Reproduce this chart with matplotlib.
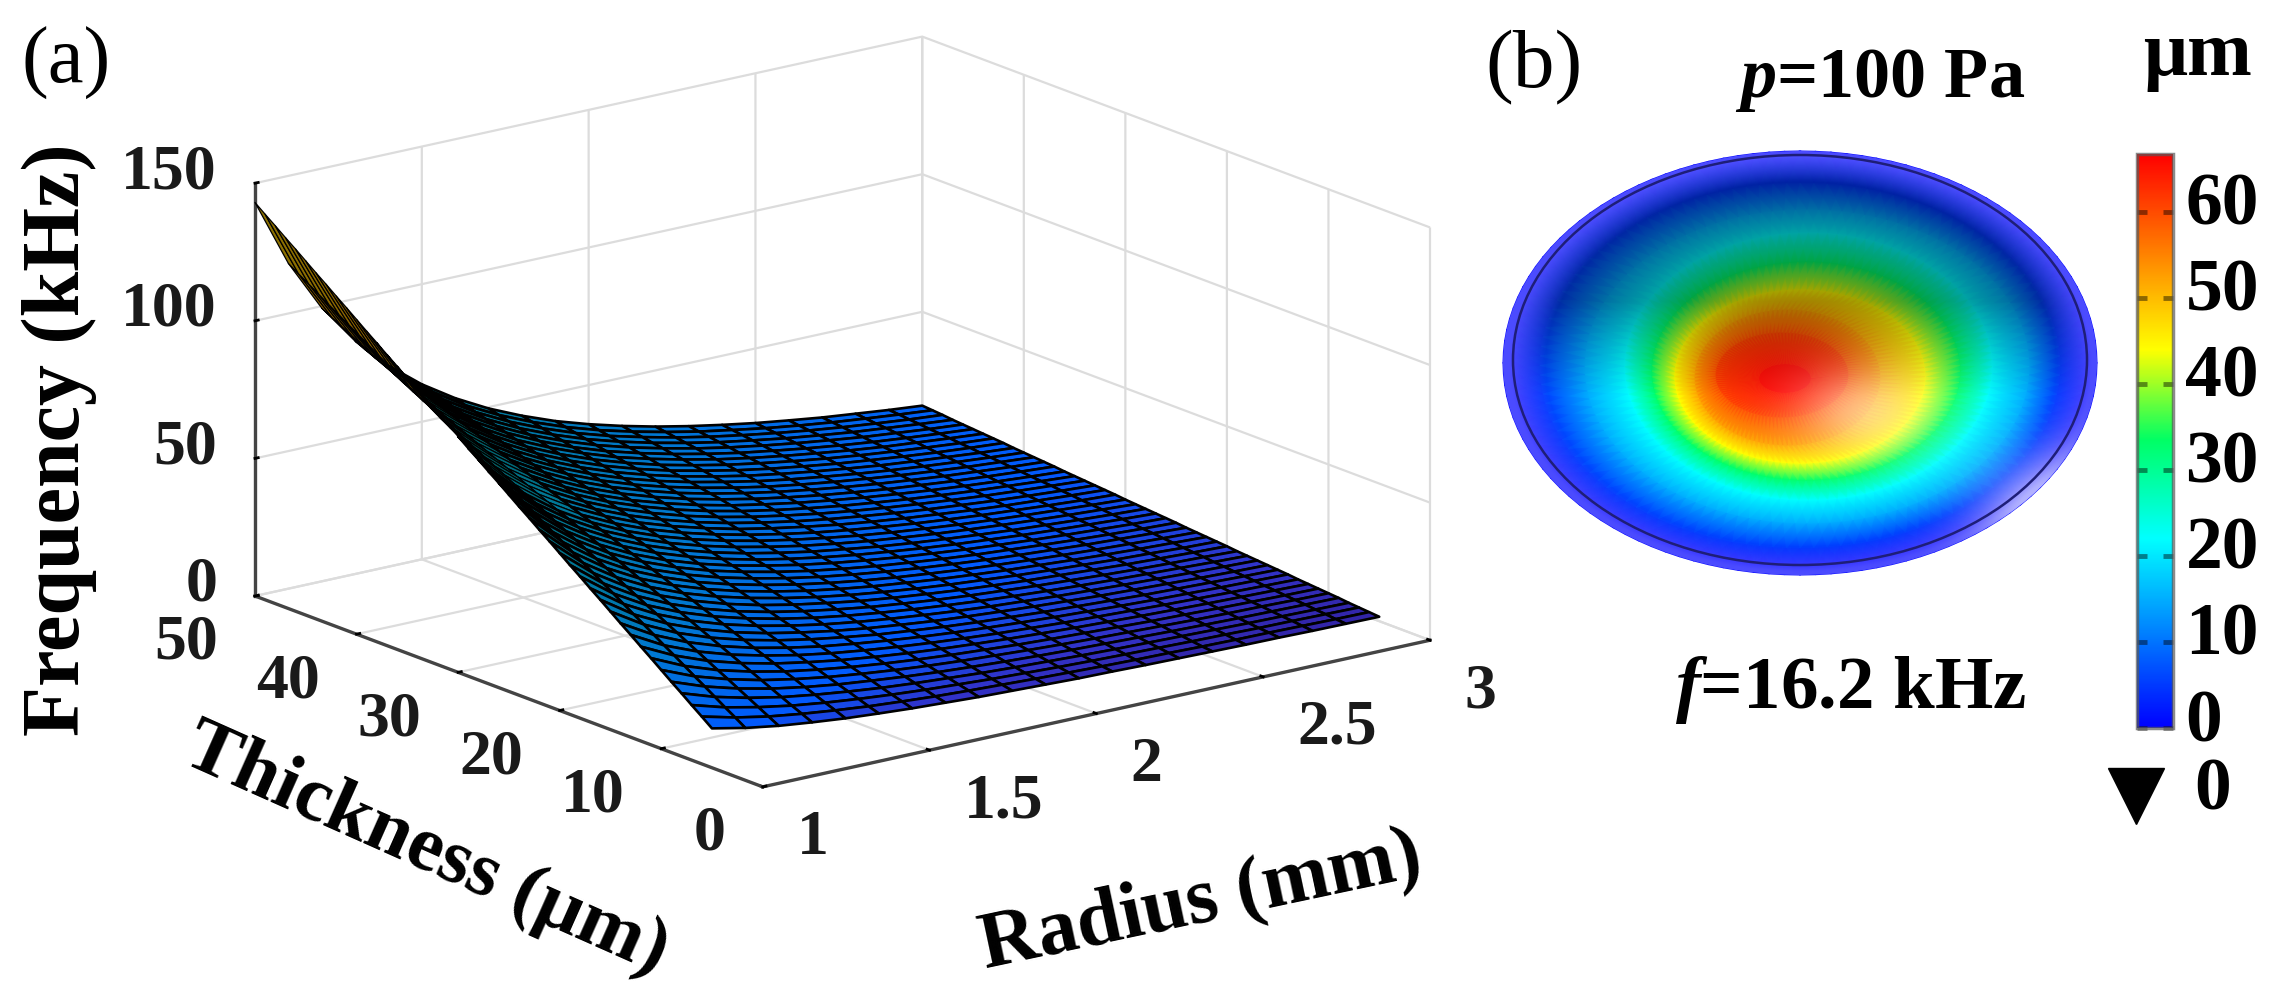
import numpy as np
import matplotlib
matplotlib.use("Agg")
import matplotlib.pyplot as plt
from matplotlib.colors import LinearSegmentedColormap, Normalize
from matplotlib.cm import ScalarMappable
from matplotlib.patches import Ellipse
from matplotlib.transforms import ScaledTranslation
from mpl_toolkits.mplot3d import proj3d

W, H = 2283, 990
plt.rcParams.update({
    "font.family": "Liberation Serif", "font.weight": "bold",
    "mathtext.fontset": "custom", "mathtext.bfit": "Liberation Serif:italic:bold",
    "mathtext.rm": "Liberation Serif", "grid.color": "#dcdcdc", "grid.linewidth": 1.6,
})

# ---- panel (a) values ----
radius_mm = [1.0,1.1,1.2,1.3,1.4,1.5,1.6,1.7,1.8,1.9,2.0,2.1,2.2,2.3,2.4,2.5,2.6,2.7,2.8,2.9,3.0]
thickness_um = list(range(5, 51))
frequency_khz = [
[14.3,11.8,9.9,8.5,7.3,6.4,5.6,5.0,4.4,4.0,3.6,3.2,3.0,2.7,2.5,2.3,2.1,2.0,1.8,1.7,1.6],
[17.2,14.2,11.9,10.2,8.8,7.6,6.7,5.9,5.3,4.8,4.3,3.9,3.5,3.2,3.0,2.7,2.5,2.4,2.2,2.0,1.9],
[20.0,16.5,13.9,11.8,10.2,8.9,7.8,6.9,6.2,5.5,5.0,4.5,4.1,3.8,3.5,3.2,3.0,2.7,2.6,2.4,2.2],
[22.9,18.9,15.9,13.5,11.7,10.2,8.9,7.9,7.1,6.3,5.7,5.2,4.7,4.3,4.0,3.7,3.4,3.1,2.9,2.7,2.5],
[25.7,21.3,17.9,15.2,13.1,11.4,10.1,8.9,7.9,7.1,6.4,5.8,5.3,4.9,4.5,4.1,3.8,3.5,3.3,3.1,2.9],
[28.6,23.6,19.9,16.9,14.6,12.7,11.2,9.9,8.8,7.9,7.2,6.5,5.9,5.4,5.0,4.6,4.2,3.9,3.7,3.4,3.2],
[31.5,26.0,21.8,18.6,16.0,14.0,12.3,10.9,9.7,8.7,7.9,7.1,6.5,6.0,5.5,5.0,4.7,4.3,4.0,3.7,3.5],
[34.3,28.4,23.8,20.3,17.5,15.3,13.4,11.9,10.6,9.5,8.6,7.8,7.1,6.5,6.0,5.5,5.1,4.7,4.4,4.1,3.8],
[37.2,30.7,25.8,22.0,19.0,16.5,14.5,12.9,11.5,10.3,9.3,8.4,7.7,7.0,6.5,6.0,5.5,5.1,4.7,4.4,4.1],
[40.0,33.1,27.8,23.7,20.4,17.8,15.6,13.9,12.4,11.1,10.0,9.1,8.3,7.6,7.0,6.4,5.9,5.5,5.1,4.8,4.5],
[42.9,35.5,29.8,25.4,21.9,19.1,16.8,14.9,13.2,11.9,10.7,9.7,8.9,8.1,7.5,6.9,6.3,5.9,5.5,5.1,4.8],
[45.8,37.8,31.8,27.1,23.3,20.3,17.9,15.8,14.1,12.7,11.4,10.4,9.5,8.7,8.0,7.3,6.8,6.3,5.8,5.4,5.1],
[48.6,40.2,33.8,28.8,24.8,21.6,19.0,16.8,15.0,13.5,12.2,11.0,10.0,9.2,8.4,7.8,7.2,6.7,6.2,5.8,5.4],
[51.5,42.6,35.7,30.5,26.3,22.9,20.1,17.8,15.9,14.3,12.9,11.7,10.6,9.7,8.9,8.2,7.6,7.1,6.6,6.1,5.7],
[54.3,44.9,37.7,32.1,27.7,24.1,21.2,18.8,16.8,15.0,13.6,12.3,11.2,10.3,9.4,8.7,8.0,7.4,6.9,6.5,6.0],
[57.2,47.3,39.7,33.8,29.2,25.4,22.3,19.8,17.7,15.8,14.3,13.0,11.8,10.8,9.9,9.2,8.5,7.8,7.3,6.8,6.4],
[60.1,49.6,41.7,35.5,30.6,26.7,23.5,20.8,18.5,16.6,15.0,13.6,12.4,11.4,10.4,9.6,8.9,8.2,7.7,7.1,6.7],
[62.9,52.0,43.7,37.2,32.1,28.0,24.6,21.8,19.4,17.4,15.7,14.3,13.0,11.9,10.9,10.1,9.3,8.6,8.0,7.5,7.0],
[65.8,54.4,45.7,38.9,33.6,29.2,25.7,22.8,20.3,18.2,16.4,14.9,13.6,12.4,11.4,10.5,9.7,9.0,8.4,7.8,7.3],
[68.6,56.7,47.7,40.6,35.0,30.5,26.8,23.8,21.2,19.0,17.2,15.6,14.2,13.0,11.9,11.0,10.2,9.4,8.8,8.2,7.6],
[71.5,59.1,49.7,42.3,36.5,31.8,27.9,24.8,22.1,19.8,17.9,16.2,14.8,13.5,12.4,11.5,10.6,9.8,9.1,8.5,8.0],
[74.4,61.5,51.6,44.0,37.9,33.0,29.0,25.7,23.0,20.6,18.6,16.9,15.4,14.1,12.9,11.9,11.0,10.2,9.5,8.8,8.3],
[77.2,63.8,53.6,45.7,39.4,34.3,30.2,26.7,23.8,21.4,19.3,17.5,16.0,14.6,13.4,12.4,11.4,10.6,9.9,9.2,8.6],
[80.1,66.2,55.6,47.4,40.9,35.6,31.3,27.7,24.7,22.2,20.0,18.2,16.5,15.1,13.9,12.8,11.8,11.0,10.2,9.5,8.9],
[82.9,68.6,57.6,49.1,42.3,36.9,32.4,28.7,25.6,23.0,20.7,18.8,17.1,15.7,14.4,13.3,12.3,11.4,10.6,9.9,9.2],
[85.8,70.9,59.6,50.8,43.8,38.1,33.5,29.7,26.5,23.8,21.5,19.5,17.7,16.2,14.9,13.7,12.7,11.8,11.0,10.2,9.5],
[88.7,73.3,61.6,52.5,45.2,39.4,34.6,30.7,27.4,24.6,22.2,20.1,18.3,16.8,15.4,14.2,13.1,12.2,11.3,10.5,9.9],
[91.5,75.6,63.6,54.1,46.7,40.7,35.7,31.7,28.3,25.3,22.9,20.8,18.9,17.3,15.9,14.7,13.5,12.5,11.7,10.9,10.2],
[94.4,78.0,65.5,55.8,48.1,41.9,36.9,32.7,29.1,26.1,23.6,21.4,19.5,17.9,16.4,15.1,14.0,12.9,12.0,11.2,10.5],
[97.2,80.4,67.5,57.5,49.6,43.2,38.0,33.7,30.0,26.9,24.3,22.1,20.1,18.4,16.9,15.6,14.4,13.3,12.4,11.6,10.8],
[100.1,82.7,69.5,59.2,51.1,44.5,39.1,34.7,30.9,27.7,25.0,22.7,20.7,18.9,17.4,16.0,14.8,13.7,12.8,11.9,11.1],
[103.0,85.1,71.5,60.9,52.5,45.8,40.2,35.6,31.8,28.5,25.7,23.4,21.3,19.5,17.9,16.5,15.2,14.1,13.1,12.2,11.4],
[105.8,87.5,73.5,62.6,54.0,47.0,41.3,36.6,32.7,29.3,26.5,24.0,21.9,20.0,18.4,16.9,15.7,14.5,13.5,12.6,11.8],
[108.7,89.8,75.5,64.3,55.4,48.3,42.4,37.6,33.6,30.1,27.2,24.7,22.5,20.6,18.9,17.4,16.1,14.9,13.9,12.9,12.1],
[111.5,92.2,77.5,66.0,56.9,49.6,43.6,38.6,34.4,30.9,27.9,25.3,23.0,21.1,19.4,17.9,16.5,15.3,14.2,13.3,12.4],
[114.4,94.6,79.4,67.7,58.4,50.8,44.7,39.6,35.3,31.7,28.6,26.0,23.6,21.6,19.9,18.3,16.9,15.7,14.6,13.6,12.7],
[117.3,96.9,81.4,69.4,59.8,52.1,45.8,40.6,36.2,32.5,29.3,26.6,24.2,22.2,20.4,18.8,17.3,16.1,15.0,13.9,13.0],
[120.1,99.3,83.4,71.1,61.3,53.4,46.9,41.6,37.1,33.3,30.0,27.3,24.8,22.7,20.9,19.2,17.8,16.5,15.3,14.3,13.4],
[123.0,101.7,85.4,72.8,62.7,54.7,48.0,42.6,38.0,34.1,30.7,27.9,25.4,23.3,21.4,19.7,18.2,16.9,15.7,14.6,13.7],
[125.8,104.0,87.4,74.4,64.2,55.9,49.1,43.6,38.9,34.8,31.5,28.6,26.0,23.8,21.9,20.2,18.6,17.2,16.1,15.0,14.0],
[128.7,106.4,89.4,76.1,65.7,57.2,50.3,44.6,39.7,35.6,32.2,29.2,26.6,24.3,22.4,20.6,19.0,17.6,16.4,15.3,14.3],
[131.6,108.7,91.4,77.8,67.1,58.5,51.4,45.5,40.6,36.4,32.9,29.9,27.2,24.9,22.9,21.1,19.5,18.0,16.8,15.6,14.6],
[134.4,111.1,93.3,79.5,68.6,59.7,52.5,46.5,41.5,37.2,33.6,30.5,27.8,25.4,23.4,21.5,19.9,18.4,17.2,16.0,14.9],
[137.3,113.5,95.3,81.2,70.0,61.0,53.6,47.5,42.4,38.0,34.3,31.2,28.4,26.0,23.9,22.0,20.3,18.8,17.5,16.3,15.3],
[140.1,115.8,97.3,82.9,71.5,62.3,54.7,48.5,43.3,38.8,35.0,31.8,29.0,26.5,24.4,22.4,20.7,19.2,17.9,16.7,15.6],
[143.0,118.2,99.3,84.6,73.0,63.6,55.9,49.5,44.2,39.6,35.8,32.5,29.6,27.1,24.9,22.9,21.2,19.6,18.3,17.0,15.9],
]
radius_ticks = [1, 1.5, 2, 2.5, 3]
radius_labels = ["1", "1.5", "2", "2.5", "3"]
thickness_ticks = [0, 10, 20, 30, 40, 50]
freq_ticks = [0, 50, 100, 150]

# ---- panel (b) values: deflection rings (level, top, bottom, left, right) ----
ring_level = [0, 0, 5, 15, 22, 33, 44, 52, 60, 66, 66]
ring_top = [151, 155, 183, 210, 233, 262, 290, 310, 333, 365, 378]
ring_bottom = [575, 565, 548, 523, 500, 480, 463, 445, 417, 392, 378]
ring_left = [1503, 1513, 1540, 1585, 1625, 1652, 1675, 1695, 1716, 1760, 1785]
ring_right = [2097, 2087, 2060, 2029, 1992, 1960, 1925, 1880, 1848, 1810, 1785]
colorbar_ticks = [0, 10, 20, 30, 40, 50, 60]
colorbar_max = 66.7

surface_stops = [(0, "#321e96"), (5, "#3232c8"), (12, "#005aff"), (30, "#0078d2"),
                 (50, "#007896"), (70, "#005046"), (85, "#5a5000"), (105, "#8c5f00"), (150, "#8c8000")]
field_stops = [(0, "#0000ff"), (22, "#00ffff"), (33.5, "#00ff64"), (44, "#ffff00"),
               (52, "#ffa500"), (66.7, "#ff0000")]


def make_cmap(stops, vmax):
    return LinearSegmentedColormap.from_list("c", [(v / vmax, c) for v, c in stops], N=512)


fig = plt.figure(figsize=(W / 100, H / 100), dpi=100, facecolor="white")

# ---------------- panel (a) ----------------
S = 1500
ax = fig.add_axes([0, 0, S / W, S / H], projection="3d", proj_type="ortho",
                  elev=16.7, azim=232.6)
ax.set_box_aspect((840, 836, 431))
ax.patch.set_alpha(0)
R, T = np.meshgrid(radius_mm, thickness_um)
Z = np.array(frequency_khz)
smap = make_cmap(surface_stops, 150)
# the steep wedge (small radius, thick film) shows through finer mesh lines, as in the reference
for rows, cols, lw in ((slice(None), slice(4, None), 1.9),
                       (slice(0, 26), slice(0, 5), 1.9),
                       (slice(25, None), slice(0, 5), 0.9)):
    ax.plot_surface(R[rows, cols], T[rows, cols], Z[rows, cols], rstride=1, cstride=1,
                    cmap=smap, vmin=0, vmax=150, edgecolor="black", linewidth=lw,
                    shade=False, antialiased=True)
ax.set_xlim(1, 3, view_margin=0)
ax.set_ylim(0, 50, view_margin=0)
ax.set_zlim(0, 150, view_margin=0)
ax.set_xticks(radius_ticks, [""] * len(radius_ticks))
ax.set_yticks(thickness_ticks, [""] * len(thickness_ticks))
ax.set_zticks(freq_ticks, [""] * len(freq_ticks))
ax.zaxis.set_ticks_position("upper")
for a in (ax.xaxis, ax.yaxis, ax.zaxis):
    a.set_pane_color((1, 1, 1, 0))
    a.pane.set_edgecolor((1, 1, 1, 0))
    a.line.set_color("#444444")
    a.line.set_linewidth(2.4)
    a._axinfo["tick"]["linewidth"] = {True: 2.0, False: 1.0}
    a._axinfo["tick"]["color"] = "#444444"
    a._axinfo["tick"]["inward_factor"] = 0.0
    a._axinfo["tick"]["outward_factor"] = 0.06


def corner_px(x, y, z):
    fig.canvas.draw()
    px, py, _ = proj3d.proj_transform(x, y, z, ax.get_proj())
    return ax.transData.transform((px, py))


# fit the box so its floor corners land where they are in the reference
target_left, target_right = np.array([255, H - 596.0]), np.array([1430, H - 640.0])
for _ in range(2):
    a, b = corner_px(1, 50, 0), corner_px(3, 0, 0)
    S *= (target_right[0] - target_left[0]) / (b[0] - a[0])
    ax.set_position([0, 0, S / W, S / H])
    a = corner_px(1, 50, 0)
    pos = ax.get_position()
    ax.set_position([pos.x0 + (target_left[0] - a[0]) / W, pos.y0 + (target_left[1] - a[1]) / H, S / W, S / H])

# ---------------- panel (b) disc ----------------
dax = fig.add_axes([1480 / W, 1 - 600 / H, 640 / W, 470 / H])
dax.set_xlim(1480, 2120)
dax.set_ylim(600, 130)
dax.axis("off")
fmap = make_cmap(field_stops, colorbar_max)
theta = np.linspace(0, 2 * np.pi, 121)
top, bot, lef, rig = map(np.array, (ring_top, ring_bottom, ring_left, ring_right))
cx, cy, sa, sb = (lef + rig) / 2, (top + bot) / 2, (rig - lef) / 2, (bot - top) / 2
DX = cx[:, None] + sa[:, None] * np.cos(theta)
DY = cy[:, None] + sb[:, None] * np.sin(theta)
DC = np.repeat(np.array(ring_level, float)[:, None], theta.size, axis=1)
dax.pcolormesh(DX, DY, DC, shading="gouraud", cmap=fmap, vmin=0, vmax=colorbar_max)

# lighting of the rendered membrane: a rim tint, a highlight low right, shade at the top
gx, gy = np.meshgrid(np.arange(1480, 2120, 2.0), np.arange(130, 600, 2.0))
rho = np.hypot((gx - 1800) / 297, (gy - 363) / 212)
rim = np.clip((rho - 0.86) / 0.12, 0, 1)
hi = np.exp(-((gx - 1862) / 72) ** 2 - ((gy - 410) / 45) ** 2) * 0.5
hi2 = np.exp(-((gx - 2055) / 78) ** 2 - ((gy - 510) / 58) ** 2) * 0.5
white = np.clip(0.30 * rim + hi + hi2, 0, 0.7)
dark = 0.36 * np.clip((395 - gy) / 95, 0, 1) * (1 - rim)
alpha = 1 - (1 - white) * (1 - dark)
shade = np.clip(white / np.maximum(alpha, 1e-6), 0, 1)
rgba = np.dstack([shade, shade, shade, alpha])
im = dax.imshow(rgba, extent=(1480, 2120, 600, 130), aspect="auto", interpolation="bilinear", zorder=2)
clip = Ellipse((1800, 363), 594, 424, transform=dax.transData)
im.set_clip_path(clip)
dax.set_xlim(1480, 2120)
dax.set_ylim(600, 130)
dax.add_patch(Ellipse((1800, 360), 574, 410, fill=False, ec="#1e1e78", lw=1.8, zorder=3))

# ---------------- colorbar ----------------
cax = fig.add_axes([2137 / W, 1 - 728 / H, 36 / W, 574 / H])
cb = fig.colorbar(ScalarMappable(Normalize(0, colorbar_max), fmap), cax=cax, ticks=colorbar_ticks)
cax.tick_params(direction="in", left=True, right=True, length=7, width=3.5,
                color=(0, 0, 0, 0.45), labelsize=53, pad=9)
for sp in cax.spines.values():
    sp.set_edgecolor((0.35, 0.35, 0.35, 0.7))
    sp.set_linewidth(2.5)
for t in cax.get_yticklabels():
    t.set_transform(t.get_transform() + ScaledTranslation(0, 13 / 100, fig.dpi_scale_trans))

# ---------------- overlay: texts and the minimum marker ----------------
tax = fig.add_axes([0, 0, 1, 1], facecolor="none")
tax.set_xlim(0, W)
tax.set_ylim(H, 0)
tax.axis("off")


def tick_text(text, xyz, dx, dy, ha):
    """Tick label placed from the projected position of its tick on the 3D axis."""
    px, py = corner_px(*xyz)
    tax.text(px + dx, H - py + dy, text, fontsize=46, color="#1a1a1a", ha=ha, va="center")


for v, s in zip(radius_ticks, radius_labels):
    tick_text(s, (v, 0, 0), 34, 52, "left")
for v in thickness_ticks:
    tick_text(str(v), (1, v, 0), -37, 48, "right")
for v in freq_ticks:
    tick_text(str(v), (1, 50, v), -38, -10, "right")

tax.plot([2136], [796], marker="v", ms=41, mfc="black", mec="black", ls="none")
tax.text(2213, 792, "0", fontsize=53, ha="center", va="center")
kw = dict(ha="center", va="center", color="black")
tax.text(66, 63, "(a)", fontsize=58, fontweight="normal", **kw)
tax.text(1534, 68, "(b)", fontsize=60, fontweight="normal", **kw)
tax.text(1880, 80, r"$\mathbfit{p}$=100 Pa", fontsize=52, **kw)
tax.text(1851, 690, r"$\mathbfit{f}$=16.2 kHz", fontsize=54, **kw)
tax.text(2197, 57, "μm", fontsize=56, **kw)
tax.text(59, 440, "Frequency (kHz)", fontsize=59, rotation=90, **kw)
tax.text(426, 850, "Thickness (μm)", fontsize=57, rotation=-24, **kw)
tax.text(1201, 903, "Radius (mm)", fontsize=58, rotation=12, **kw)

fig.savefig("out.png", dpi=100)
